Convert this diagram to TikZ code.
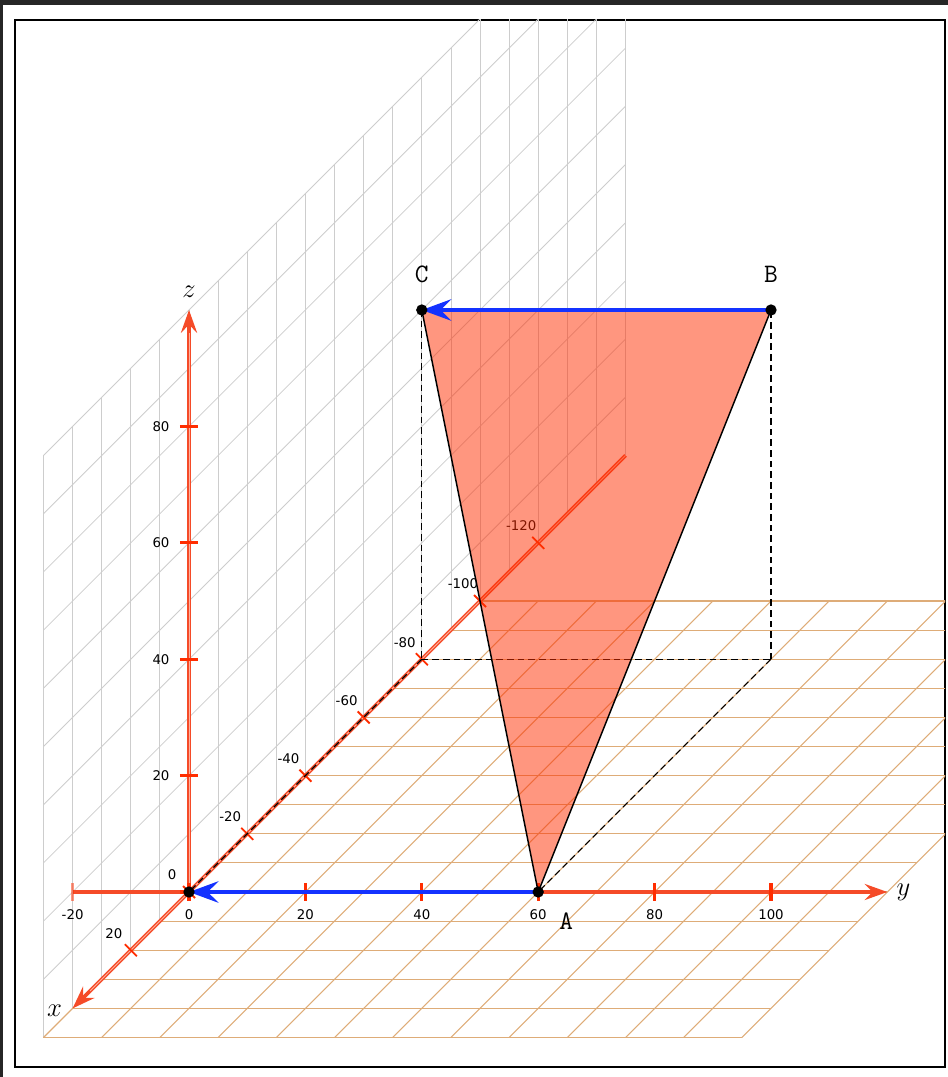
\documentclass[tikz,border=0pt]{standalone}
\usepackage{fix-cm}
\usepackage{fontspec}
\newfontfamily\tickfont{DejaVu Sans}
\usetikzlibrary{arrows.meta}
\definecolor{axred}{RGB}{255,45,0}
\definecolor{axline}{RGB}{245,75,40}
\definecolor{axpale}{RGB}{255,175,155}
\definecolor{arblue}{RGB}{20,50,255}
\definecolor{floorc}{RGB}{222,172,120}
\definecolor{backc}{RGB}{205,205,205}
\definecolor{stripc}{RGB}{38,38,38}
\begin{document}
\begin{tikzpicture}[
  x={(-2.1825pt,-2.1825pt)}, y={(4.365pt,0pt)}, z={(0pt,4.365pt)},
  backline/.style={draw=backc, line width=0.6pt},
  floorline/.style={draw=floorc, line width=0.8pt},
  axisline/.style={draw=axline, line width=2.8pt, -{Stealth[length=17pt,width=12pt,inset=6pt]}},
  axiscore/.style={draw=axpale, line width=0.6pt},
  ytickmark/.style={draw=axred, line width=2.3pt},
  xtickmark/.style={draw=axred, line width=1.4pt},
  ticklabel/.style={font=\tickfont\fontsize{10}{12}\selectfont, inner sep=0pt},
  dashline/.style={draw=black, line width=0.8pt, dash pattern=on 5pt off 3pt},
  bluearrow/.style={draw=arblue, line width=3.3pt, -{Stealth[length=22pt,width=16pt,inset=8pt]}},
  dot/.style={circle, fill=black, inner sep=0pt, minimum size=8.5pt},
  ptlabel/.style={font=\fontsize{20}{24}\selectfont\ttfamily, inner sep=0pt},
  axlabel/.style={font=\fontsize{20}{24}\selectfont, inner sep=0pt},
]
\useasboundingbox (-141.75pt,-138.75pt) rectangle (569.25pt,669pt);
\fill[stripc] (-141.75pt,665.25pt) rectangle (569.25pt,669pt);
\fill[stripc] (-141.75pt,-138.75pt) rectangle (-139.5pt,669pt);
\draw[line width=1.1pt] (-130.5pt,-131.25pt) rectangle (567pt,654pt);

\coordinate (O) at (0,0,0);
\coordinate (A) at (0,60,0);
\coordinate (B) at (-80,60,60);
\coordinate (C) at (-80,0,60);
\coordinate (Cf) at (-80,0,0);
\coordinate (Bf) at (-80,60,0);
\coordinate (xneg) at (-150,0,0);
\coordinate (xpos) at (40,0,0);
\coordinate (yneg) at (0,-20,0);
\coordinate (ypos) at (0,120,0);
\coordinate (zpos) at (0,0,100);

\begin{scope}
\clip (-130.5pt,-131.25pt) rectangle (567pt,654pt);
% back grid (plane y=0)
\foreach \a in {-150,-140,...,50} \draw[backline] (\a,0,0) -- (\a,0,100);
\foreach \c in {10,20,...,100} \draw[backline] (50,0,\c) -- (-150,0,\c);
% floor grid (plane z=0)
\foreach \a in {-100,-90,...,50} \draw[floorline] (\a,0,0) -- (\a,120,0);
\foreach \b in {0,10,...,120} \draw[floorline] (-100,\b,0) -- (50,\b,0);
% axes
\draw[axisline] (xneg) -- (xpos);
\draw[axiscore] (xneg) -- (34,0,0);
\draw[axisline] (yneg) -- (ypos);
\draw[axisline] (O) -- (zpos);
\draw[axiscore] (O) -- (0,0,96);
% ticks
\foreach \b in {0,20,...,100} \draw[ytickmark] (0,\b,0) ++(0pt,6.75pt) -- ++(0pt,-13.5pt);
\draw[ytickmark, opacity=0.5] (0,-20,0) ++(0pt,6.75pt) -- ++(0pt,-13.5pt);
\foreach \c in {0,20,...,80} \draw[ytickmark] (0,0,\c) ++(-6.75pt,0pt) -- ++(13.5pt,0pt);
\foreach \a in {-120,-100,...,20} \draw[xtickmark] (\a,0,0) ++(-4.5pt,4.5pt) -- ++(9pt,-9pt);
% tick labels
\foreach \b in {-20,0,...,100} \node[ticklabel, yshift=-17.25pt] (ylab\b) at (0,\b,0) {\b};
\foreach \c in {20,40,60,80} \node[ticklabel, xshift=-21pt] (zlab\c) at (0,0,\c) {\c};
\foreach \a in {20,0,...,-120} \node[ticklabel, xshift=-12.75pt, yshift=12.75pt] (xlab\a) at (\a,0,0) {\a};
% dashed construction lines
\draw[dashline] (C) -- (Cf);
\draw[dashline] (Cf) -- (Bf);
\draw[dashline] (Bf) -- (B);
\draw[dashline] (Bf) -- (A);
\draw[dashline] (Cf) -- (O);
% triangle
\fill[axred, opacity=0.5] (A) -- (B) -- (C) -- cycle;
\draw[black, line width=1.1pt] (C) -- (A) -- (B);
% blue vectors
\draw[bluearrow] (B) -- (C);
\draw[bluearrow] (A) -- (O);
% points
\node[dot] (Odot) at (O) {};
\node[dot] (Adot) at (A) {};
\node[dot] (Bdot) at (B) {};
\node[dot] (Cdot) at (C) {};
\end{scope}
% labels
\node[ptlabel, xshift=21pt, yshift=-21.75pt] (Alab) at (A) {A};
\node[ptlabel, yshift=27pt] (Blab) at (B) {B};
\node[ptlabel, yshift=27pt] (Clab) at (C) {C};
\node[axlabel, xshift=-13.5pt, yshift=-1.5pt] (xlet) at (xpos) {$x$};
\node[axlabel, xshift=12pt] (ylet) at (ypos) {$y$};
\node[axlabel, yshift=13.5pt] (zlet) at (zpos) {$z$};
\end{tikzpicture}
\end{document}
